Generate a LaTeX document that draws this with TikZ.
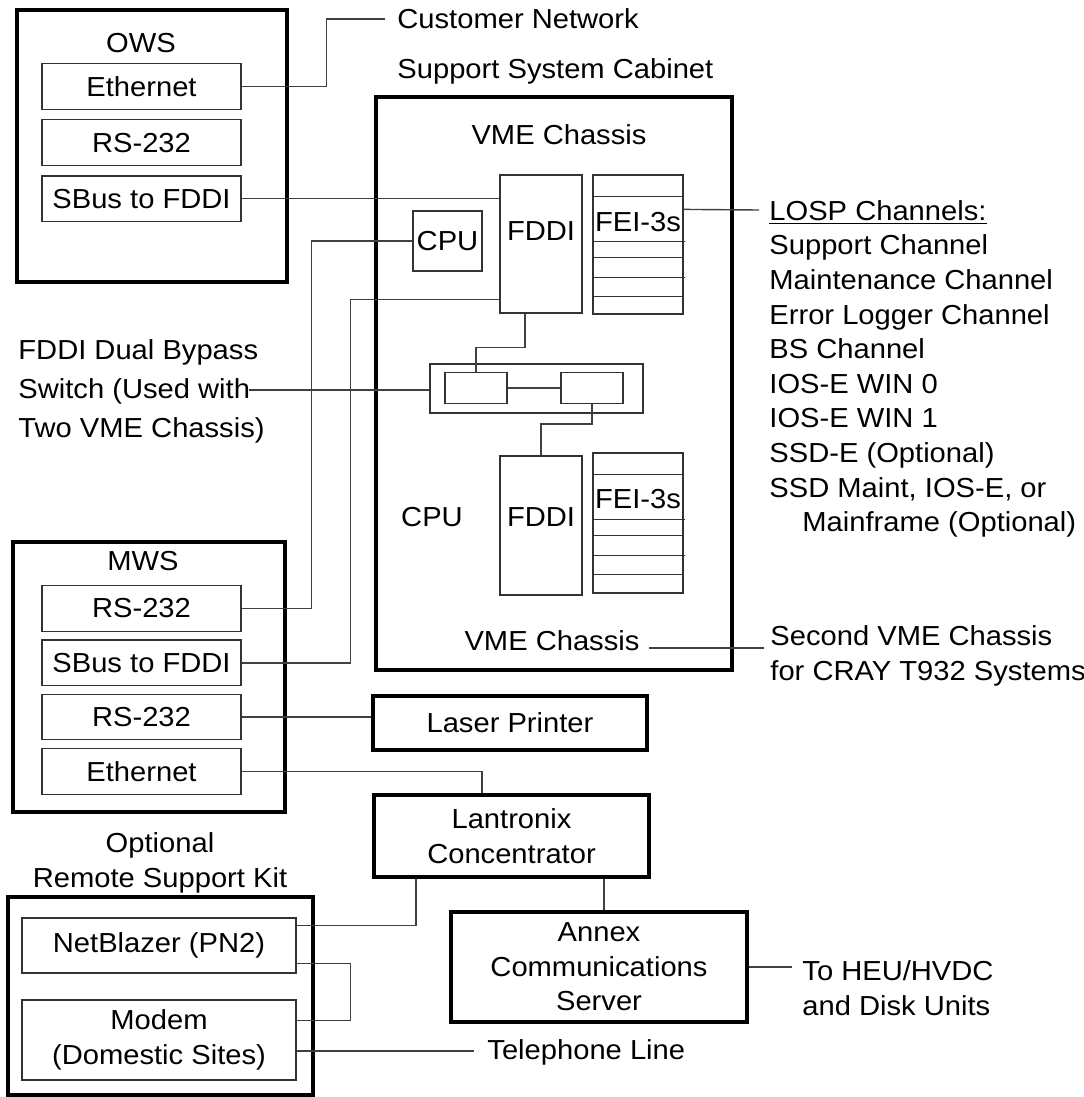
\documentclass[tikz,border=0pt]{standalone}
\usepackage{fontspec}
\setmainfont[FakeStretch=1.06]{Liberation Sans}
\usetikzlibrary{positioning,calc}

\begin{document}
\begin{tikzpicture}[
        x=0.5pt, y=-0.5pt,
        font=\fontsize{13.75}{17.3}\selectfont,
        unit/.style={rectangle, draw=black, line width=1.6pt, inner sep=0pt},
        box/.style={rectangle, draw=black, line width=1.6pt, align=center, inner sep=0pt},
        card/.style={rectangle, draw=black!80, line width=0.6pt, align=center, inner sep=0pt},
        port/.style={card, minimum width=99.5pt, minimum height=22.75pt},
        txt/.style={inner sep=0pt, align=center},
        link/.style={draw=black!75, line width=0.7pt}
    ]
    \useasboundingbox (0,0) rectangle (1083,1097);

    % Operator workstation
    \node[unit, minimum width=135pt, minimum height=136pt] (ows) at (152,146) {};
    \node[txt] (owsTitle) at (141,43) {OWS};
    \node[port] (owsEth) at (141.5,86.5) {Ethernet};
    \node[port, below=4.7pt of owsEth] (owsRS) {RS-232};
    \node[port, below=4.7pt of owsRS] (owsSBus) {SBus to FDDI};
    \node[txt, anchor=west] (custNet) at (397,19) {Customer Network};

    % Support system cabinet
    \node[txt, anchor=west] (cabTitle) at (397,71) {Support System Cabinet};
    \node[unit, minimum width=178pt, minimum height=286.5pt] (cab) at (554,383.5) {};
    \node[txt] (vmeA) at (559,135) {VME Chassis};
    \node[card, minimum width=34.5pt, minimum height=30pt] (cpuA) at (447.5,241) {CPU};
    \node[card, minimum width=41pt, minimum height=69pt] (fddiA) at (541,244) {};
    \node[txt] (fddiAtxt) at (541,231) {FDDI};
    \node[card, minimum width=45pt, minimum height=69.5pt] (feiA) at (638,244.5) {};
    \node[txt] (feiAtxt) at (638,222) {FEI-3s};

    % Dual bypass switch
    \node[card, minimum width=106.5pt, minimum height=24.5pt] (bypass) at (536.5,388.5) {};
    \node[card, minimum width=31pt, minimum height=15.5pt] (swL) at (476,388) {};
    \node[card, minimum width=31pt, minimum height=15.5pt] (swR) at (592,388) {};
    \node[txt, anchor=west, align=left, font=\fontsize{13.75}{19.5}\selectfont] (bypassTxt) at (18,391) {FDDI Dual Bypass\\Switch (Used with\\Two VME Chassis)};
    \coordinate (bypassEnd) at (249,390);

    % Second chassis
    \node[card, minimum width=41pt, minimum height=69.5pt] (fddiB) at (541,525.5) {};
    \node[txt] (fddiBtxt) at (541,517) {FDDI};
    \node[card, minimum width=45pt, minimum height=70pt] (feiB) at (638,523) {};
    \node[txt] (feiBtxt) at (638,499) {FEI-3s};
    \node[txt] (cpuB) at (432,517) {CPU};
    \node[txt] (vmeB) at (552,641) {VME Chassis};

    % FEI channel slots
    \foreach \fei in {feiA,feiB}
        \foreach \r/\w in {22/90,67/93,83/90,103/93,122/90}
            \draw[black!80, line width=0.6pt] (\fei.north west) ++(0,\r) -- ++(\w,0);

    \node[txt, anchor=north west, align=left] (losp) at (769,200) {\underline{LOSP Channels:}\\Support Channel\\Maintenance Channel\\Error Logger Channel\\BS Channel\\IOS-E WIN 0\\IOS-E WIN 1\\SSD-E (Optional)\\SSD Maint, IOS-E, or\\\hspace*{16.5pt}Mainframe (Optional)};
    \node[txt, anchor=west, align=left] (secondVme) at (770,656) {Second VME Chassis\\for CRAY T932 Systems};

    % Maintenance workstation
    \node[unit, minimum width=136pt, minimum height=135pt] (mws) at (149,677) {};
    \node[txt] (mwsTitle) at (143,561) {MWS};
    \node[port] (mwsRS) at (141.5,608.5) {RS-232};
    \node[port, below=3.8pt of mwsRS] (mwsSBus) {SBus to FDDI};
    \node[port, below=3.8pt of mwsSBus] (mwsRSb) {RS-232};
    \node[port, below=3.8pt of mwsRSb] (mwsEth) {Ethernet};

    % Peripherals
    \node[box, minimum width=137pt, minimum height=27pt] (laser) at (510,723) {Laser Printer};
    \node[box, minimum width=137.5pt, minimum height=41pt] (lantronix) at (511.5,836) {Lantronix\\Concentrator};
    \node[box, minimum width=148pt, minimum height=55pt] (annex) at (599,967) {Annex\\Communications\\Server};
    \node[txt, anchor=west, align=left] (heu) at (802,988) {To HEU/HVDC\\and Disk Units};

    % Remote support kit
    \node[txt] (kitTitle) at (160,863) {Optional\\Remote Support Kit};
    \node[unit, minimum width=152.5pt, minimum height=99pt] (kit) at (160.5,996) {};
    \node[card, minimum width=137pt, minimum height=27.5pt] (netBlazer) at (159,945.5) {NetBlazer (PN2)};
    \node[card, minimum width=137pt, minimum height=40pt] (modem) at (159,1040) {Modem\\(Domestic Sites)};
    \node[txt, anchor=west] (phone) at (487,1052) {Telephone Line};

    % Cables
    \draw[link] (owsEth.east) -- ++(85,0) |- ([xshift=-6pt]custNet.west);
    \draw[link] (owsSBus.east) -- (owsSBus.east -| fddiA.west);
    \draw[link] (mwsRS.east) -- ++(70,0) |- (cpuA.west);
    \draw[link] (mwsSBus.east) -- ++(109,0) |- ([yshift=7pt]fddiA.south west);
    \draw[link] (bypassEnd) -- (bypassEnd -| bypass.west);
    \draw[link] ([xshift=-8pt]fddiA.south) -- ++(0,34) -| (swL.north);
    \draw[link] (swL) -- (swR);
    \draw[link] (swR.south) -- ++(0,20) -| (fddiB.north);
    \draw[link] ([yshift=-17.5pt]feiA.north east) -- ([xshift=-5pt,yshift=-5pt]losp.north west);
    \draw[link] ([xshift=4.5pt,yshift=-3.5pt]vmeB.east) -- ([xshift=-3pt,yshift=-3.5pt]vmeB.east -| secondVme.west);
    \draw[link] (mwsRSb.east) -- (mwsRSb.east -| laser.west);
    \draw[link] (mwsEth.east) -| ([xshift=-14.75pt]lantronix.north);
    \draw[link] ([xshift=-47.75pt]lantronix.south) |- ([yshift=-4pt]netBlazer.north east);
    \draw[link] ([xshift=46.25pt]lantronix.south) -- ([xshift=46.25pt]lantronix.south |- annex.north);
    \draw[link] (annex.east) -- ([xshift=-5pt]heu.west |- annex.east);
    \draw[link] ([yshift=5pt]netBlazer.south east) -- ++(54,0) |- ([yshift=-10.5pt]modem.north east);
    \draw[link] ([yshift=-5.5pt]modem.east) -- ++(177,0);

\end{tikzpicture}
\end{document}
